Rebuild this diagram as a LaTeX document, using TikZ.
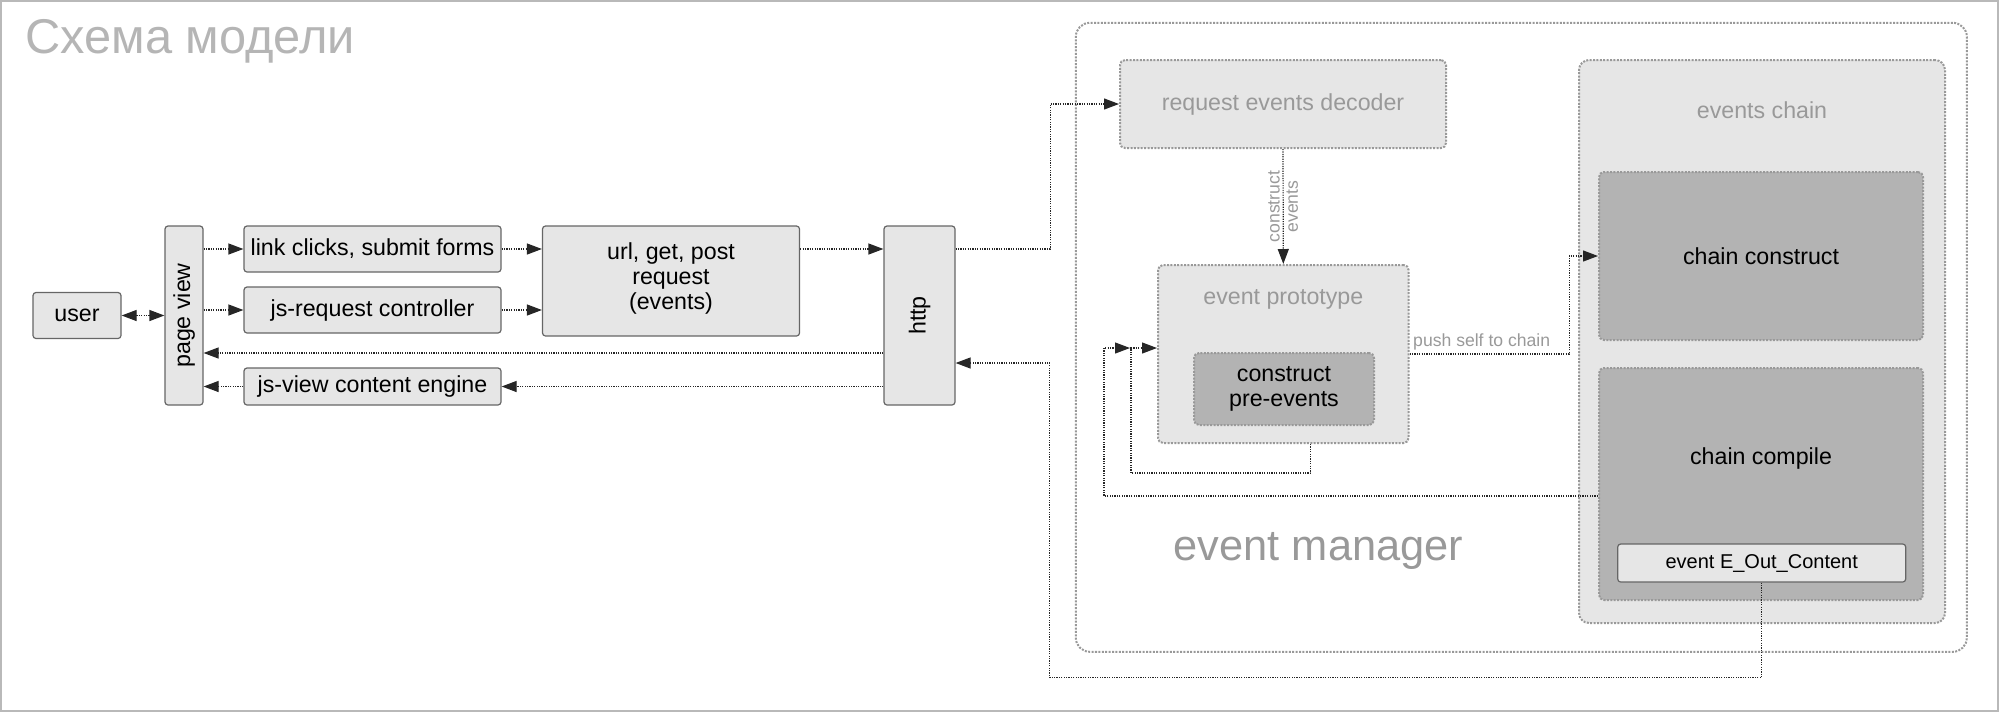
\documentclass[tikz,border=0pt]{standalone}
\usepackage{fontspec}
\setmainfont{Liberation Sans}
\usepackage{graphicx}
\usepackage{xcolor}
\usetikzlibrary{arrows.meta,positioning,calc}
\definecolor{boxfill}{HTML}{E6E6E6}
\definecolor{darkfill}{HTML}{B3B3B3}
\definecolor{dotgray}{HTML}{999999}
\definecolor{titlegray}{HTML}{B5B5B5}

\begin{document}
\begin{tikzpicture}[x=0.5pt,y=-0.5pt,>={Triangle[length=7.5pt,width=5.5pt]},
solidbox/.style={draw=black!60,fill=boxfill,rounded corners=1.5pt,line width=0.6pt,inner sep=0pt,font=\fontsize{11.6}{12.6}\selectfont,align=center},
grp/.style={draw=dotgray,fill=boxfill,line width=1pt,dash pattern=on 1pt off 0.7pt,rounded corners=2.5pt,inner sep=0pt,font=\fontsize{11.6}{12.6}\selectfont,align=center},
darkbox/.style={grp,fill=darkfill},
lbl/.style={text=dotgray,font=\fontsize{11.6}{12.6}\selectfont,inner sep=0pt},
note/.style={text=dotgray,font=\fontsize{8.8}{9.2}\selectfont,inner sep=1.5pt},
conn/.style={black!85,line width=0.6pt,dash pattern=on 0.6pt off 0.6pt,->}]
\useasboundingbox (0,0) rectangle (2000,713);
\draw[gray!55,line width=1pt] (1,1) rectangle (1998,711);
\node[anchor=base west,inner sep=0pt,text=titlegray,font=\fontsize{24.4}{28}\selectfont] (title) at (25,53) {Схема модели};

% event manager
\node[grp,fill=none,rounded corners=7pt,minimum width=445.5pt,minimum height=314.5pt] (em) at (1521.3,337.3) {};
\node[anchor=base,text=dotgray,font=\fontsize{21.7}{24}\selectfont,inner sep=0pt] (emlbl) at (1318.5,560) {event manager};
\node[grp,text=dotgray,minimum width=163pt,minimum height=44pt] (dec) at (1283,104) {request events decoder};
\node[grp,minimum width=125.3pt,minimum height=89pt] (proto) at (1283.3,354) {};
\node[lbl] (protolbl) at ([yshift=-17.9pt]proto.north) {event prototype};
\node[darkbox,minimum width=90pt,minimum height=36pt] (pre) at (1284,389) {construct\\pre-events};
\node[grp,rounded corners=5pt,minimum width=183pt,minimum height=281.5pt] (chain) at (1762,341.5) {};
\node[lbl] (chainlbl) at (1762,110) {events chain};
\node[darkbox,minimum width=162pt,minimum height=84pt] (cons) at (1761,256) {chain construct};
\node[darkbox,minimum width=162pt,minimum height=116pt] (comp) at (1761,484) {};
\node[inner sep=0pt,font=\fontsize{11.6}{12.6}\selectfont] (complbl) at (1761,458) {chain compile};
\node[solidbox,font=\fontsize{10}{12}\selectfont,minimum width=144pt,minimum height=19pt] (eout) at (1761.7,563) {event E\_Out\_Content};

% client side
\node[solidbox,minimum width=44pt,minimum height=23pt] (user) at (77,315.5) {user};
\node[solidbox,minimum width=19pt,minimum height=89.5pt] (pv) at (184,315.5) {\rotatebox{90}{page view}};
\node[solidbox,minimum width=128.5pt,minimum height=23pt] (lc) at (372.5,249) {link clicks, submit forms};
\node[solidbox,minimum width=128.5pt,minimum height=23pt] (jr) at (372.5,310) {js-request controller};
\node[solidbox,minimum width=128.5pt,minimum height=18.5pt] (jv) at (372.5,386.5) {js-view content engine};
\node[solidbox,minimum width=128.5pt,minimum height=55pt] (url) at (671,281) {url, get, post\\request\\(events)\\[-7.6pt]};
\node[solidbox,minimum width=35.5pt,minimum height=89.5pt] (http) at (919.5,315.5) {\rotatebox{90}{http}};

\path[conn]
(user) edge[<->] (pv)
(pv.east |- lc) edge (lc)
(pv.east |- jr) edge (jr)
(lc) edge (url.west |- lc)
(jr) edge (url.west |- jr)
(url.east |- lc) edge (http.west |- lc)
([yshift=-18.75pt]http.west) edge ([yshift=-18.75pt]pv.east)
(http.west |- jv) edge (jv)
(jv) edge (pv.east |- jv);

\draw[conn] (http.east |- lc) -- ++(94.5,0) |- (dec.west);
\draw[conn] (dec.south) -- node[note,rotate=90,align=center]{construct\\events} (proto.north);
\draw[conn] (proto.east) -- node[note,pos=0,anchor=south west]{push self to chain} ++(159.5,0) |- (cons.west);
\draw[conn] ([xshift=13.7pt]proto.south) -- ++(0,29) -| ([xshift=-13pt,yshift=3pt]proto.west) -- ([yshift=3pt]proto.west);
\draw[conn] ([yshift=-6pt]comp.west) -| ([xshift=-26.5pt,yshift=3pt]proto.west) -- ([xshift=-13.5pt,yshift=3pt]proto.west);
\draw[conn] (eout.south) -- ++(0,95) -| ([xshift=47pt,yshift=-23.75pt]http.east) -- ([yshift=-23.75pt]http.east);
\end{tikzpicture}
\end{document}
